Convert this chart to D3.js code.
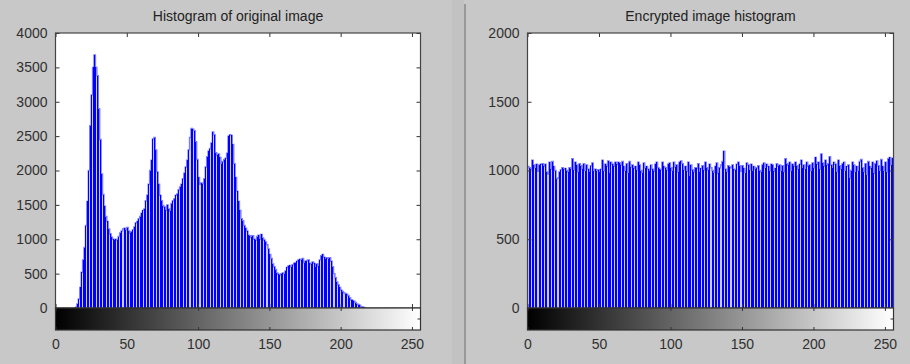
<!DOCTYPE html>
<html>
<head>
<meta charset="utf-8">
<script src="https://cdn.jsdelivr.net/npm/d3@7"></script>
<style>
  body { margin: 0; background: #c8c8c8; }
  svg { display: block; font-family: Arial, "Liberation Sans", sans-serif; }
</style>
</head>
<body>
<svg id="chart" width="910" height="364"></svg>
<script>
// gray level counts (bins 0..255)
const originalCounts = [
  0, 0, 0, 0, 0, 0, 0, 0, 0, 0, 0, 0, 0, 0, 20, 60, 130, 300, 520, 700,
  880, 1200, 1550, 2000, 2650, 3100, 3500, 3680, 3500, 3380, 2900, 2450, 1950, 1650, 1480, 1330, 1260, 1150, 1080, 1030,
  1000, 990, 1000, 990, 1040, 1090, 1120, 1150, 1160, 1140, 1170, 1120, 1090, 1110, 1140, 1180, 1240, 1260, 1300, 1330,
  1380, 1420, 1440, 1560, 1640, 1800, 2000, 2150, 2460, 2480, 2300, 1980, 1800, 1640, 1560, 1490, 1470, 1420, 1500, 1440,
  1410, 1520, 1560, 1590, 1640, 1660, 1720, 1760, 1800, 1880, 1960, 2050, 2150, 2300, 2480, 2610, 2600, 2580, 2420, 2160,
  1900, 1800, 1820, 1810, 1880, 2050, 2200, 2280, 2320, 2400, 2560, 2520, 2260, 2220, 2240, 2190, 2100, 2130, 2160, 2180,
  2250, 2500, 2520, 2510, 2380, 2100, 1900, 1700, 1550, 1420, 1300, 1270, 1200, 1160, 1120, 1060, 1050, 1030, 1050, 1000,
  990, 1040, 1060, 1000, 1070, 1020, 990, 960, 920, 860, 780, 720, 640, 600, 560, 510, 490, 480, 500, 510,
  500, 540, 590, 610, 620, 600, 630, 650, 660, 680, 700, 710, 700, 720, 660, 680, 690, 700, 650, 640,
  670, 650, 600, 640, 610, 700, 760, 780, 740, 720, 730, 720, 730, 680, 600, 500, 440, 380, 340, 300,
  260, 240, 220, 210, 200, 180, 150, 120, 110, 100, 80, 60, 50, 40, 20, 15, 8, 4, 0, 0,
  0, 0, 0, 0, 0, 0, 0, 0, 0, 0, 0, 0, 0, 0, 0, 0, 0, 0, 0, 0,
  0, 0, 0, 0, 0, 0, 0, 0, 0, 0, 0, 0, 0, 0, 0, 0
];

// gray level counts (bins 0..255)
const encryptedCounts = [
  1030, 1020, 1010, 1075, 1040, 1020, 1045, 995, 1040, 1045,
  1050, 1030, 1045, 990, 975, 1060, 1010, 1065, 1030, 1000,
  940, 945, 990, 1005, 1020, 1010, 1015, 1000, 990, 1020,
  1010, 1085, 1005, 1060, 1040, 990, 1050, 1035, 1010, 1050,
  1000, 1040, 1010, 990, 1035, 1055, 1000, 1010, 1000, 1005,
  990, 1010, 1075, 1000, 1045, 1030, 1070, 985, 1060, 1045,
  1030, 1060, 1045, 1060, 1055, 1040, 1065, 1030, 1000, 1050,
  985, 1065, 1025, 1040, 1015, 1030, 1005, 1060, 1040, 1000,
  985, 1055, 1020, 1030, 1010, 1000, 1040, 1010, 995, 1045,
  1060, 1020, 1010, 1005, 1060, 1030, 1020, 1005, 1045, 1055,
  1020, 1000, 1060, 1025, 1040, 990, 1060, 1070, 1050, 1005,
  1030, 995, 1060, 960, 1040, 1005, 990, 1020, 1015, 1050,
  990, 1015, 1035, 1005, 1060, 1020, 1005, 1045, 1020, 1000,
  985, 1030, 1055, 980, 1020, 1040, 1065, 1140, 1010, 990,
  1035, 1025, 1020, 1040, 1010, 1005, 1045, 1060, 1035, 995,
  1035, 1015, 985, 1055, 1040, 1005, 1045, 1000, 1030, 1010,
  1020, 1035, 1000, 990, 1040, 1055, 1020, 1045, 1030, 1000,
  1045, 1040, 995, 1015, 1050, 1030, 1040, 1000, 1035, 990,
  1085, 1050, 1040, 1060, 1000, 1045, 1030, 1060, 1035, 1010,
  1045, 1075, 1020, 1040, 1010, 1060, 1030, 1040, 1000, 1055,
  1020, 1095, 1045, 1060, 1010, 1120, 1055, 1030, 1075, 1040,
  1050, 1100, 1040, 1015, 1060, 1045, 990, 1075, 1035, 1010,
  1050, 1060, 1000, 1030, 1040, 945, 1000, 1060, 1040, 990,
  1030, 1000, 1065, 1080, 1020, 990, 1050, 970, 1065, 1030,
  1015, 1060, 980, 1050, 1070, 1035, 1000, 1080, 1030, 1000,
  1060, 990, 1085, 1095, 1040, 1090
];

const xTicks = [0, 50, 100, 150, 200, 250];
const originalYTicks = [0, 500, 1000, 1500, 2000, 2500, 3000, 3500, 4000];
const encryptedYTicks = [0, 500, 1000, 1500, 2000];
const panelTitles = ["Histogram of original image", "Encrypted image histogram"];

const svg = d3.select("#chart");

//Gray ramp used by both colorbars
const grad = svg.append("defs").append("linearGradient")
    .attr("id", "grayRamp");
grad.append("stop").attr("offset", "0%").attr("stop-color", "#000");
grad.append("stop").attr("offset", "100%").attr("stop-color", "#fff");

//Panel divider
svg.append("rect").attr("x", 452).attr("y", 0).attr("width", 12).attr("height", 364)
    .attr("fill", "#c2c2c2");
svg.append("line").attr("x1", 465).attr("x2", 465).attr("y1", 4).attr("y2", 364)
    .attr("stroke", "#8a8a8a").attr("stroke-width", 1.5);

const fmt = d3.format("d");

function drawPanel(counts, yMax, yTicks, title, left, right, id) {
    const top = 33, zero = 308, cbBottom = 330;
    const x = d3.scaleLinear().domain([0, 256]).range([left, right]);
    const y = d3.scaleLinear().domain([0, yMax]).range([zero, top]);
    const g = svg.append("g");

    g.append("rect").attr("x", left).attr("y", top)
        .attr("width", right - left).attr("height", zero - top).attr("fill", "#fff");

    g.append("clipPath").attr("id", id).append("rect")
        .attr("x", left).attr("y", top).attr("width", right - left).attr("height", zero - top);
    const plot = g.append("g").attr("clip-path", `url(#${id})`);

    //Light envelope behind the bars
    const pts = counts.map((v, i) => [i, v]);
    pts.push([counts.length, counts[counts.length - 1]]);
    plot.append("path")
        .attr("d", d3.area().curve(d3.curveStepAfter)
            .x(d => x(d[0])).y0(zero).y1(d => y(d[1]))(pts))
        .attr("fill", "#ccccff");
    plot.append("path")
        .attr("d", d3.line().curve(d3.curveStepAfter)
            .x(d => x(d[0])).y(d => y(d[1]))(pts.filter(d => d[1] > 0)))
        .attr("fill", "none").attr("stroke", "#7a7aff").attr("stroke-width", 1.4);

    //Bars
    const bw = x(1) - x(0);
    plot.selectAll(".bar").data(counts).enter().append("rect")
        .attr("class", "bar")
        .attr("x", (d, i) => x(i))
        .attr("y", d => y(d))
        .attr("width", bw * 0.68)
        .attr("height", d => zero - y(d))
        .attr("fill", "#0000ff")
        .attr("shape-rendering", "crispEdges");

    //Axes, ticks pointing inward on all four sides
    const tickLen = 4;
    g.append("g").attr("transform", `translate(${left},0)`)
        .call(d3.axisLeft(y).tickValues(yTicks).tickSizeInner(-tickLen).tickSizeOuter(0).tickPadding(8).tickFormat(fmt))
        .call(a => a.select(".domain").remove())
        .call(a => a.selectAll("text").attr("font-size", 14).attr("fill", "#303030"));
    g.append("g").attr("transform", `translate(${right},0)`)
        .call(d3.axisRight(y).tickValues(yTicks).tickSizeInner(-tickLen).tickSizeOuter(0).tickFormat(""))
        .call(a => a.select(".domain").remove());
    g.append("g").attr("transform", `translate(0,${top})`)
        .call(d3.axisTop(x).tickValues(xTicks).tickSizeInner(-tickLen).tickSizeOuter(0).tickFormat(""))
        .call(a => a.select(".domain").remove());
    g.append("g").attr("transform", `translate(0,${zero})`)
        .call(d3.axisBottom(x).tickValues(xTicks).tickSizeInner(-tickLen).tickSizeOuter(0).tickFormat(""))
        .call(a => a.select(".domain").remove());
    g.selectAll(".tick line").attr("stroke", "#333");

    g.append("rect").attr("x", left).attr("y", top)
        .attr("width", right - left).attr("height", zero - top)
        .attr("fill", "none").attr("stroke", "#444").attr("stroke-width", 1.2);

    //Colorbar under the plot
    g.append("rect").attr("x", left).attr("y", zero)
        .attr("width", right - left).attr("height", cbBottom - zero)
        .attr("fill", "url(#grayRamp)").attr("stroke", "#333").attr("stroke-width", 1.2);
    g.append("g").attr("transform", `translate(0,${zero})`)
        .call(d3.axisTop(x).tickValues(xTicks).tickSizeInner(-3).tickSizeOuter(0).tickFormat(""))
        .call(a => a.select(".domain").remove());
    g.append("g").attr("transform", `translate(0,${cbBottom})`)
        .call(d3.axisBottom(x).tickValues(xTicks).tickSizeInner(-3).tickSizeOuter(0).tickPadding(9).tickFormat(fmt))
        .call(a => a.select(".domain").remove())
        .call(a => a.selectAll("text").attr("font-size", 14).attr("fill", "#303030"));
    g.append("line").attr("x1", right - 3).attr("x2", right)
        .attr("y1", (zero + cbBottom) / 2).attr("y2", (zero + cbBottom) / 2)
        .attr("stroke", "#333");
    g.selectAll(".tick line").attr("stroke", "#333");

    g.append("text").attr("x", (left + right) / 2).attr("y", 21)
        .attr("text-anchor", "middle").attr("font-size", 14).attr("fill", "#222")
        .text(title);
}

drawPanel(originalCounts, 4000, originalYTicks, panelTitles[0], 55.5, 420.5, "clipA");
drawPanel(encryptedCounts, 2000, encryptedYTicks, panelTitles[1], 527.5, 893.5, "clipB");
</script>
</body>
</html>
